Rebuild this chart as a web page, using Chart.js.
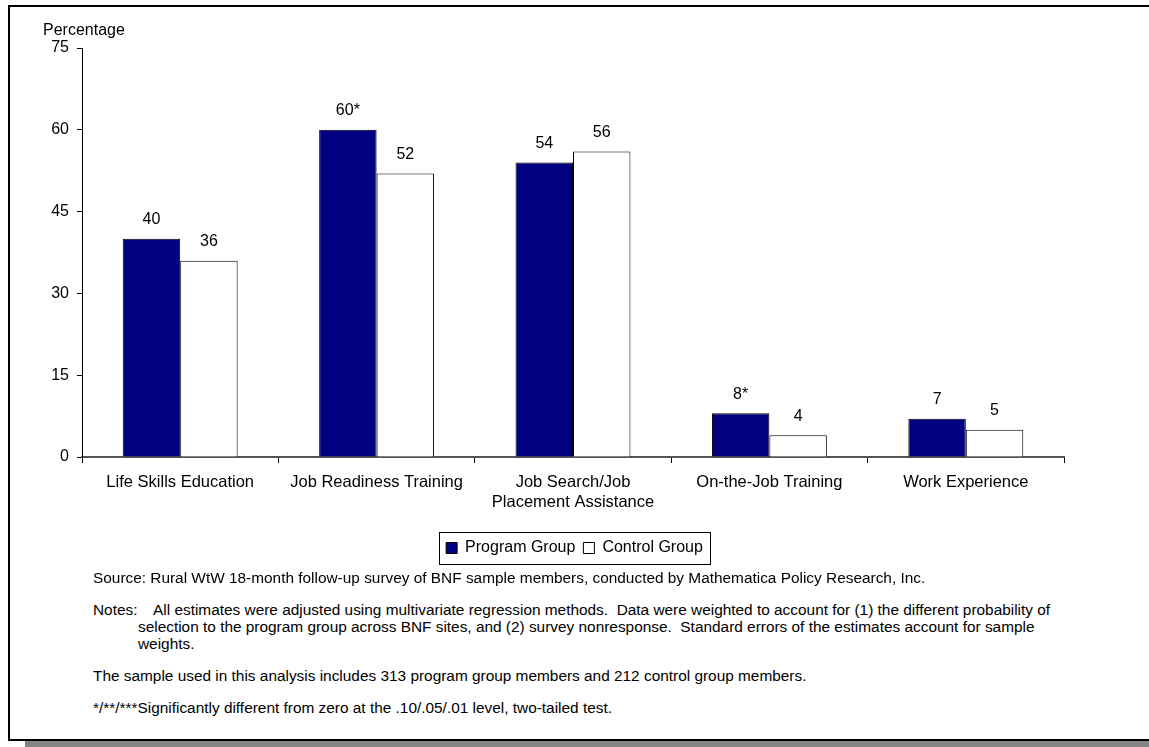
<!DOCTYPE html>
<html>
<head>
<meta charset="utf-8">
<script src="https://cdn.jsdelivr.net/npm/chart.js@4"></script>
<style>
  html, body { margin: 0; background: #fff; overflow: hidden; font-family: "Liberation Sans", Arial, sans-serif; }
  #page { position: relative; width: 1149px; height: 747px; overflow: hidden; }
  .rule { position: absolute; background: #000; }
  #shadow { position: absolute; left: 25px; top: 741px; width: 1124px; height: 6px; background: #868686; }
  #wrap { position: absolute; left: 0; top: 0; width: 1149px; height: 570px; }
  .note { position: absolute; left: 93px; font-size: 15.4px; color: #000; line-height: 17px; white-space: nowrap; }
  .lead { display: inline-block; width: 60px; }
  .cont { padding-left: 45px; }
</style>
</head>
<body>
<div id="page">
<div class="rule" style="left:8px; top:5px; width:1141px; height:2px"></div>
<div class="rule" style="left:8px; top:5px; width:2px; height:736px"></div>
<div class="rule" style="left:8px; top:739px; width:1141px; height:2px"></div>
<div id="shadow"></div>
<div id="wrap"><canvas id="chart"></canvas></div>
<div class="note" style="top:569px">Source: Rural WtW 18-month follow-up survey of BNF sample members, conducted by Mathematica Policy Research, Inc.</div>
<div class="note" style="top:601px"><span class="lead">Notes:</span>All estimates were adjusted using multivariate regression methods.&nbsp; Data were weighted to account for (1) the different probability of<br><span class="cont">selection to the program group across BNF sites, and (2) survey nonresponse.&nbsp; Standard errors of the estimates account for sample</span><br><span class="cont">weights.</span></div>
<div class="note" style="top:667px">The sample used in this analysis includes 313 program group members and 212 control group members.</div>
<div class="note" style="top:699px">*/**/***Significantly different from zero at the .10/.05/.01 level, two-tailed test.</div>
</div>
<script>
const categories = [
  "Life Skills Education",
  "Job Readiness Training",
  ["Job Search/Job", "Placement Assistance"],
  "On-the-Job Training",
  "Work Experience"
];
const programValues = [40, 60, 54, 8, 7];
const controlValues = [36, 52, 56, 4, 5];
const programSig = ["", "*", "", "*", ""];
const controlSig = ["", "", "", "", ""];
const yTicks = [0, 15, 30, 45, 60, 75];

const FONT = "Liberation Sans, Arial, sans-serif";

const valueLabels = {
  id: "valueLabels",
  afterDatasetsDraw(chart) {
    const ctx = chart.ctx;
    const sigs = [programSig, controlSig];
    ctx.save();
    ctx.font = "16px " + FONT;
    ctx.fillStyle = "#000";
    ctx.textAlign = "center";
    ctx.textBaseline = "middle";
    chart.data.datasets.forEach((ds, i) => {
      chart.getDatasetMeta(i).data.forEach((bar, j) => {
        ctx.fillText(ds.data[j] + sigs[i][j], bar.x, bar.y - 19);
      });
    });
    ctx.restore();
  }
};

const axisTitle = {
  id: "axisTitle",
  afterDraw(chart) {
    const ctx = chart.ctx;
    ctx.save();
    ctx.font = "16px " + FONT;
    ctx.fillStyle = "#000";
    ctx.textAlign = "left";
    ctx.textBaseline = "middle";
    ctx.fillText("Percentage", 43, 31);
    ctx.restore();
  }
};

const legendBox = {
  id: "legendBox",
  afterDraw(chart) {
    const boxes = chart.legend.legendHitBoxes;
    if (!boxes || !boxes.length) return;
    const first = boxes[0], last = boxes[boxes.length - 1];
    const ctx = chart.ctx;
    ctx.save();
    ctx.strokeStyle = "#000";
    ctx.lineWidth = 1;
    const x0 = first.left - 7, x1 = last.left + last.width + 7;
    const y0 = first.top - 8, y1 = first.top + first.height + 8;
    ctx.strokeRect(Math.round(x0) + 0.5, Math.round(y0) + 0.5, Math.round(x1 - x0), Math.round(y1 - y0));
    ctx.restore();
  }
};

new Chart(document.getElementById("chart"), {
  type: "bar",
  data: {
    labels: categories,
    datasets: [
      {
        label: "Program Group",
        data: programValues,
        backgroundColor: "#000080",
        borderColor: "#000",
        borderWidth: 1
      },
      {
        label: "Control Group",
        data: controlValues,
        backgroundColor: "#ffffff",
        borderColor: "#000",
        borderWidth: 1
      }
    ]
  },
  options: {
    responsive: true,
    maintainAspectRatio: false,
    animation: false,
    layout: { padding: { left: 0, right: 0, top: 48, bottom: 4 } },
    datasets: {
      bar: { categoryPercentage: 0.585, barPercentage: 1.0 }
    },
    scales: {
      x: {
        grid: { drawOnChartArea: false, drawTicks: true, tickLength: 6, color: "#000", offset: true },
        border: { color: "#555", width: 2 },
        ticks: { color: "#000", font: { size: 16.5, family: FONT, lineHeight: 1.25 }, maxRotation: 0, autoSkip: false, padding: 9 },
        afterFit(scale) { scale.height = 75; }
      },
      y: {
        min: 0,
        max: 75,
        afterBuildTicks(scale) { scale.ticks = yTicks.map(v => ({ value: v })); },
        grid: { drawOnChartArea: false, drawTicks: true, tickLength: 5, color: "#000" },
        border: { color: "#000", width: 1 },
        ticks: { color: "#000", font: { size: 16, family: FONT }, padding: 8 },
        afterFit(scale) { scale.width = 82; }
      },
      // empty right-hand axis, only reserves the blank space right of the plot
      yRight: {
        position: "right",
        grid: { display: false },
        border: { display: false },
        ticks: { display: false },
        afterFit(scale) { scale.width = 85; }
      }
    },
    plugins: {
      legend: {
        position: "bottom",
        labels: {
          color: "#000",
          font: { size: 16, family: FONT },
          boxWidth: 11,
          boxHeight: 11,
          padding: 8
        }
      },
      tooltip: { enabled: false }
    }
  },
  plugins: [valueLabels, axisTitle, legendBox]
});
</script>
</body>
</html>
